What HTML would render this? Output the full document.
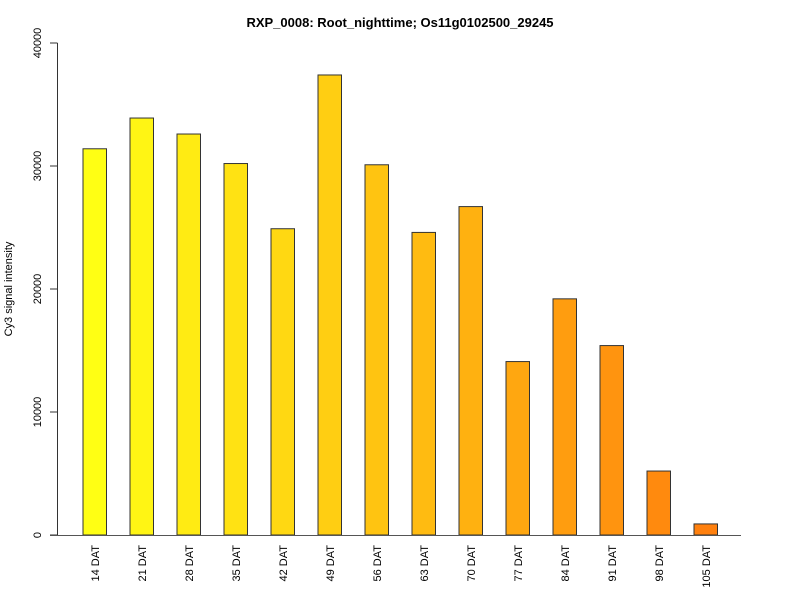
<!DOCTYPE html>
<html><head><meta charset="utf-8"><style>
body{margin:0;background:#fff}
svg{display:block;font-family:"Liberation Sans",sans-serif}
</style></head><body>
<svg id="chart" width="800" height="600">
<text x="400" y="27" text-anchor="middle" font-size="13" font-weight="bold">RXP_0008: Root_nighttime; Os11g0102500_29245</text>
<text transform="translate(12,289) rotate(-90)" text-anchor="middle" font-size="11">Cy3 signal intensity</text>
<g id="yaxis"></g>
<g id="bars"></g>
<line x1="50" y1="535.5" x2="741" y2="535.5" stroke="#555"/>
<g id="xlabels"></g>
</svg>
<script>
const categories=["14 DAT","21 DAT","28 DAT","35 DAT","42 DAT","49 DAT","56 DAT","63 DAT","70 DAT","77 DAT","84 DAT","91 DAT","98 DAT","105 DAT"];
const values=[31400,33900,32600,30200,24900,37400,30100,24600,26700,14100,19200,15400,5200,900];
const yTicks=[0,10000,20000,30000,40000];
const NS="http://www.w3.org/2000/svg";
const y0=535,yTop=43,yMax=40000;
function yScale(v){return y0-(v/yMax)*(y0-yTop);}
function xScale(i){return 83+i*47;}
const barW=23.5;
function mk(t,a){const e=document.createElementNS(NS,t);for(const k in a)e.setAttribute(k,a[k]);return e;}
const ya=document.getElementById('yaxis');
const axl=mk('line',{x1:57.5,x2:57.5,y1:yScale(yTicks[0]),y2:yScale(yTicks[yTicks.length-1]),stroke:'#333'});


ya.appendChild(axl);
yTicks.forEach(t=>{
  const y=yScale(t);
  const l=mk('line',{x1:50,x2:57.5,y1:y,y2:y,stroke:'#333'});
  
  
  ya.appendChild(l);
  const tx=mk('text',{transform:`translate(41,${y}) rotate(-90)`,'text-anchor':'middle','font-size':'11'});
  tx.textContent=t;
  
  
  ya.appendChild(tx);
});
const bg=document.getElementById('bars'),xl=document.getElementById('xlabels');
const n=values.length;
values.forEach((v,i)=>{
  const f=i/(n-1);
  const g=Math.round(255-f*(255-128)),b=Math.round(20-f*6);
  const r=mk('rect',{x:xScale(i),y:yScale(v),width:barW,height:y0-yScale(v),fill:`rgb(255,${g},${b})`,stroke:'#333','stroke-width':1});
  
  
  bg.appendChild(r);
  const tx=mk('text',{transform:`translate(${xScale(i)+barW/2+4},545) rotate(-90)`,'text-anchor':'end','font-size':'11'});
  tx.textContent=categories[i];
  
  
  xl.appendChild(tx);
});
</script>
</body></html>
